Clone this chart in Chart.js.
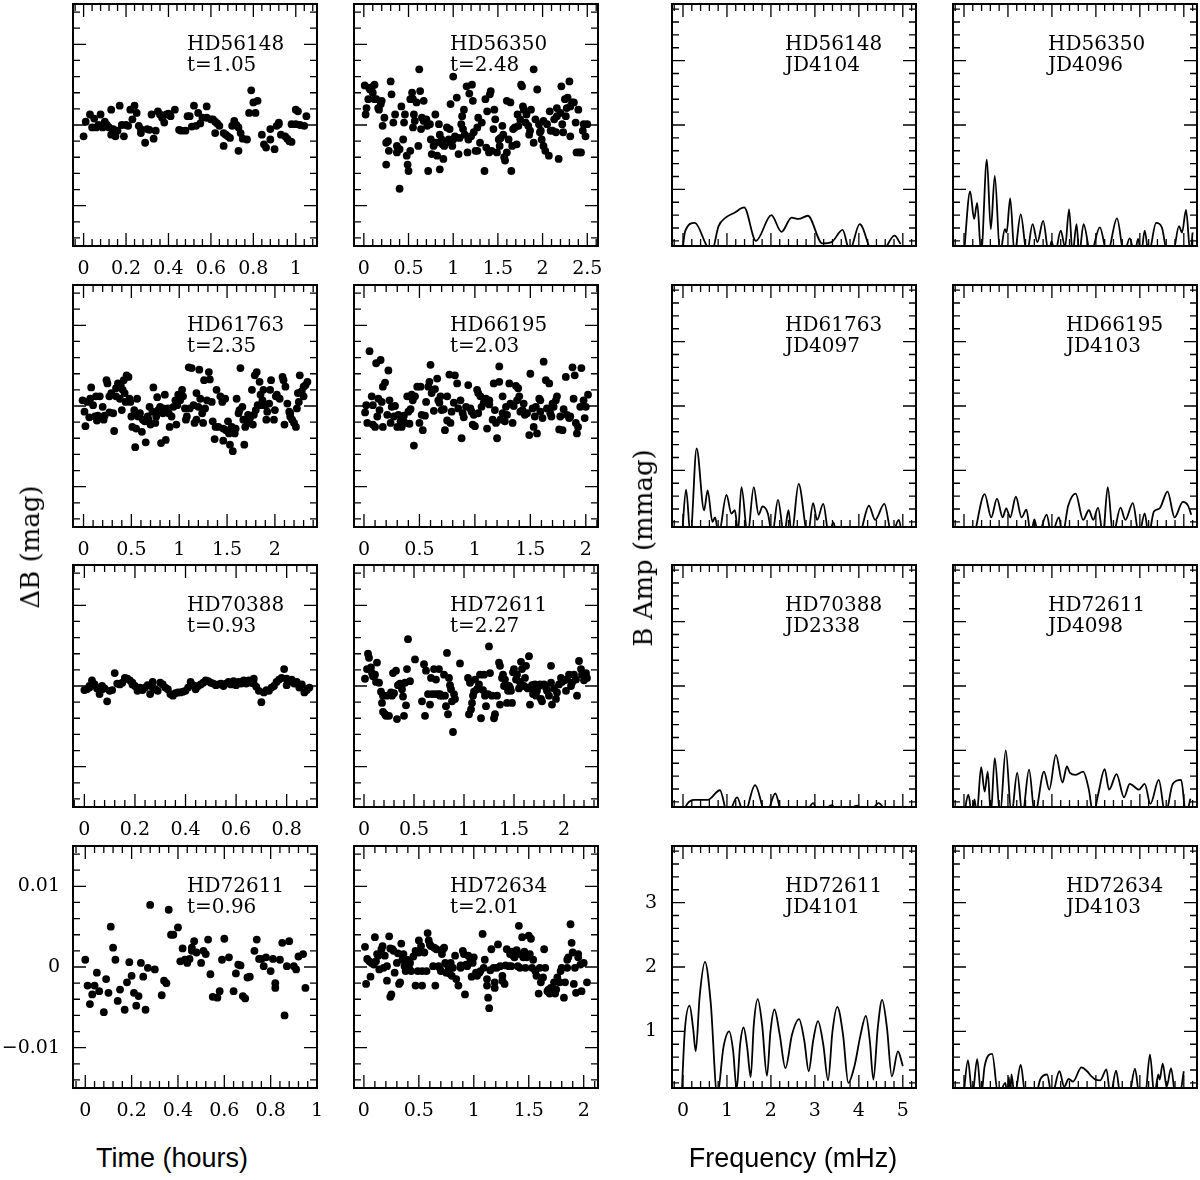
<!DOCTYPE html>
<html>
<head>
<meta charset="utf-8">
<script src="https://cdn.jsdelivr.net/npm/chart.js@4.4.0/dist/chart.umd.min.js"></script>
<style>
  body { margin: 0; background: #fff; }
  #page { position: relative; width: 1200px; height: 1180px; overflow: hidden; background: #fff; }
  canvas { position: absolute; }
  .lbl { position: absolute; font: 20px "DejaVu Serif", serif; line-height: 21px; color: #000; white-space: pre; }
  .ytitle { position: absolute; font: 26px "DejaVu Serif", serif; white-space: nowrap; color: #000;
            transform: translate(-50%, -50%) rotate(-90deg); }
  .xtitle { position: absolute; font: 27px "Liberation Sans", Arial, sans-serif; line-height: 27px; white-space: nowrap;
            color: #000; transform: translateX(-50%); }
</style>
</head>
<body>
<div id="page"></div>
<script>
// light curves: [time (h), delta B (mmag)]
const lc56148 = [[0.00,-1.4],[0.01,0.4],[0.03,1.3],[0.04,-0.3],[0.05,0.8],[0.06,-0.3],[0.07,0.0],[0.08,1.3],[0.09,-0.3],[0.10,0.4],[0.11,0.0],[0.12,-0.3],[0.13,1.9],[0.13,-1.2],[0.14,-0.5],[0.15,-1.4],[0.16,-0.7],[0.17,2.4],[0.18,0.0],[0.19,-1.4],[0.20,0.0],[0.21,-0.1],[0.22,1.9],[0.23,0.7],[0.24,2.4],[0.25,1.5],[0.26,-0.1],[0.27,-0.5],[0.27,-1.0],[0.29,-2.2],[0.30,-0.5],[0.31,-0.6],[0.32,1.3],[0.33,-1.7],[0.34,-0.7],[0.35,1.7],[0.36,1.3],[0.37,0.9],[0.38,0.3],[0.39,1.3],[0.40,1.4],[0.41,1.1],[0.43,1.9],[0.45,-0.6],[0.46,-0.7],[0.48,-0.7],[0.49,1.1],[0.50,1.1],[0.51,-0.2],[0.52,2.4],[0.53,-0.1],[0.54,1.5],[0.55,0.2],[0.56,0.9],[0.58,2.3],[0.58,0.9],[0.60,0.7],[0.61,0.7],[0.62,-1.0],[0.62,0.4],[0.63,0.2],[0.64,-0.1],[0.66,-1.0],[0.66,-2.6],[0.67,-1.2],[0.68,-1.4],[0.69,-1.6],[0.70,-0.1],[0.71,0.5],[0.72,0.0],[0.73,-0.3],[0.73,-3.2],[0.74,-1.0],[0.75,-1.7],[0.77,-1.8],[0.78,1.5],[0.79,4.3],[0.80,2.8],[0.81,1.5],[0.82,3.0],[0.84,-1.2],[0.85,-2.4],[0.86,-2.8],[0.88,-1.8],[0.88,-0.5],[0.90,-3.0],[0.91,-0.1],[0.92,0.1],[0.92,0.3],[0.93,-1.2],[0.95,-1.4],[0.96,-1.7],[0.97,-2.0],[0.98,-2.1],[0.98,0.1],[1.00,0.1],[1.00,1.9],[1.01,1.7],[1.02,0.0],[1.04,-0.1],[1.05,1.1]];

const lc56350 = [[0.01,4.9],[0.02,1.3],[0.03,2.1],[0.05,3.2],[0.06,4.6],[0.07,4.4],[0.09,4.7],[0.10,4.0],[0.12,5.0],[0.12,3.2],[0.14,3.2],[0.16,2.1],[0.17,1.9],[0.19,2.6],[0.20,3.0],[0.21,-0.1],[0.23,0.9],[0.25,-4.9],[0.25,-2.2],[0.27,-2.0],[0.28,-3.2],[0.30,5.4],[0.31,3.8],[0.33,0.3],[0.35,1.3],[0.37,-2.6],[0.37,-3.4],[0.40,-3.0],[0.40,-7.9],[0.42,2.3],[0.44,-1.8],[0.45,0.3],[0.46,1.3],[0.48,-3.8],[0.49,-4.9],[0.50,-5.7],[0.52,-3.2],[0.52,3.2],[0.54,4.0],[0.55,3.2],[0.55,-0.3],[0.56,1.3],[0.57,0.5],[0.59,2.8],[0.61,-2.6],[0.62,6.9],[0.63,4.2],[0.64,-0.5],[0.65,0.9],[0.67,3.0],[0.67,0.5],[0.70,0.7],[0.71,-0.1],[0.72,-5.7],[0.74,0.1],[0.75,-1.8],[0.76,-3.6],[0.78,-2.6],[0.80,1.3],[0.81,-2.2],[0.82,-3.8],[0.84,0.1],[0.85,-5.5],[0.85,-1.2],[0.87,-1.8],[0.88,-2.4],[0.89,-4.2],[0.90,-2.6],[0.92,-2.2],[0.93,-0.3],[0.95,-1.8],[0.96,-0.5],[0.97,2.6],[0.99,-2.6],[1.00,6.0],[1.00,-1.8],[1.02,-1.4],[1.04,3.4],[1.06,-3.6],[1.07,-1.6],[1.09,0.1],[1.10,1.1],[1.11,-0.5],[1.12,1.9],[1.13,-1.2],[1.15,4.8],[1.16,-3.4],[1.17,-1.8],[1.18,3.9],[1.20,-1.4],[1.21,5.0],[1.22,3.0],[1.23,-0.9],[1.25,-3.2],[1.27,-0.3],[1.27,-3.2],[1.28,0.9],[1.30,-2.2],[1.32,0.3],[1.35,-5.7],[1.36,3.2],[1.37,-2.8],[1.38,1.7],[1.40,-3.4],[1.41,3.8],[1.42,4.2],[1.43,-3.2],[1.45,-0.5],[1.46,1.9],[1.47,0.7],[1.49,-3.4],[1.51,-1.8],[1.52,-2.6],[1.53,-1.6],[1.55,-0.1],[1.56,-1.2],[1.57,-4.0],[1.58,-4.4],[1.60,-3.4],[1.60,3.0],[1.62,-1.8],[1.64,2.8],[1.65,-5.7],[1.66,-2.6],[1.67,-0.5],[1.69,-0.3],[1.71,-2.4],[1.72,1.3],[1.73,-0.1],[1.75,0.7],[1.76,5.0],[1.77,4.8],[1.78,2.3],[1.79,1.9],[1.81,0.3],[1.82,1.3],[1.84,-0.1],[1.85,-1.2],[1.86,-0.7],[1.87,1.9],[1.90,6.9],[1.90,-2.2],[1.92,0.7],[1.94,4.4],[1.96,0.1],[1.97,-0.9],[1.98,-0.7],[1.99,-1.8],[2.01,0.5],[2.01,-2.6],[2.03,-3.2],[2.05,0.1],[2.07,-3.8],[2.08,1.7],[2.09,-0.7],[2.11,-0.7],[2.13,0.7],[2.15,-0.9],[2.16,2.1],[2.16,1.1],[2.18,-4.2],[2.20,1.5],[2.21,4.8],[2.22,0.1],[2.23,-0.9],[2.25,3.2],[2.26,1.1],[2.27,2.1],[2.28,3.4],[2.30,5.4],[2.31,2.3],[2.31,-1.4],[2.33,2.8],[2.35,2.8],[2.37,0.3],[2.38,-3.4],[2.40,1.9],[2.41,-3.4],[2.43,-3.4],[2.45,-0.7],[2.46,0.1],[2.48,-1.4],[2.50,0.1]];

const lc61763 = [[-0.01,0.7],[0.01,-0.7],[0.02,-2.5],[0.04,0.5],[0.06,-1.4],[0.07,0.9],[0.08,2.3],[0.10,0.1],[0.12,-1.3],[0.13,1.2],[0.14,-1.8],[0.15,-1.2],[0.17,1.2],[0.19,-1.4],[0.20,-0.1],[0.21,-1.7],[0.22,-1.2],[0.24,3.2],[0.25,2.8],[0.27,1.2],[0.27,-0.8],[0.29,1.6],[0.31,-0.9],[0.32,-3.1],[0.34,1.2],[0.34,2.2],[0.36,2.8],[0.38,0.9],[0.39,2.5],[0.40,-0.5],[0.41,2.0],[0.42,3.2],[0.43,1.6],[0.44,0.5],[0.45,3.8],[0.47,3.6],[0.48,0.9],[0.49,0.5],[0.50,-1.3],[0.51,-2.6],[0.53,-0.5],[0.54,-5.1],[0.55,-2.8],[0.56,0.9],[0.57,-1.3],[0.59,-0.9],[0.61,-3.2],[0.62,-1.7],[0.64,-1.9],[0.65,-4.5],[0.67,-1.3],[0.68,-1.7],[0.69,-0.1],[0.70,-2.3],[0.72,-0.7],[0.73,2.3],[0.75,-2.1],[0.76,-1.3],[0.77,1.1],[0.78,-0.5],[0.80,-0.1],[0.81,-4.6],[0.83,-0.9],[0.83,-0.3],[0.85,1.4],[0.86,-4.2],[0.88,-0.3],[0.89,-0.9],[0.90,-2.6],[0.92,-1.3],[0.94,-0.1],[0.96,0.7],[0.97,-2.3],[0.98,0.1],[0.99,1.4],[1.01,0.7],[1.03,2.0],[1.04,1.2],[1.06,-0.3],[1.07,-1.7],[1.08,-1.3],[1.10,4.8],[1.11,-0.3],[1.13,4.7],[1.15,0.1],[1.16,-2.1],[1.18,1.6],[1.18,-1.7],[1.20,-0.1],[1.21,4.5],[1.22,0.9],[1.24,-0.9],[1.25,-2.1],[1.26,3.2],[1.27,-0.3],[1.29,0.7],[1.31,4.2],[1.32,3.3],[1.34,0.5],[1.35,-1.9],[1.37,-4.1],[1.38,-2.6],[1.39,2.0],[1.41,-2.6],[1.43,1.2],[1.45,0.5],[1.46,-4.3],[1.46,-2.8],[1.48,0.9],[1.49,-3.0],[1.51,-1.9],[1.52,-3.4],[1.53,-4.8],[1.55,-2.6],[1.56,-5.6],[1.58,-3.4],[1.59,-2.8],[1.60,0.9],[1.62,-0.9],[1.63,-0.5],[1.64,4.7],[1.66,-0.1],[1.67,-1.7],[1.68,-4.8],[1.69,-2.6],[1.70,-1.7],[1.72,-1.1],[1.73,-2.1],[1.74,-1.5],[1.76,2.0],[1.77,-2.3],[1.78,-1.1],[1.79,3.8],[1.80,-0.5],[1.81,4.2],[1.82,0.1],[1.84,3.0],[1.85,1.4],[1.86,0.1],[1.87,0.7],[1.88,2.0],[1.90,0.1],[1.91,-1.7],[1.92,-0.7],[1.94,0.3],[1.95,2.0],[1.96,3.2],[1.99,-1.7],[2.00,-0.5],[2.01,1.2],[2.02,1.4],[2.05,0.9],[2.08,3.6],[2.09,3.2],[2.10,-2.3],[2.11,2.4],[2.13,0.3],[2.15,-0.7],[2.16,-0.9],[2.16,-1.3],[2.18,-1.7],[2.20,-2.1],[2.22,-2.6],[2.23,-0.3],[2.24,1.6],[2.25,0.5],[2.26,3.8],[2.28,1.8],[2.30,1.2],[2.30,2.4],[2.32,2.6],[2.34,3.0]];

const lc66195 = [[0.01,-0.8],[0.02,0.1],[0.03,-2.1],[0.05,6.8],[0.07,1.2],[0.08,0.1],[0.08,-2.3],[0.10,-2.6],[0.11,5.3],[0.12,-1.3],[0.13,0.9],[0.14,-0.5],[0.15,5.7],[0.16,0.5],[0.17,-2.6],[0.17,2.4],[0.19,2.9],[0.21,-1.1],[0.22,4.4],[0.23,0.7],[0.24,-2.1],[0.25,-0.1],[0.27,-1.3],[0.28,0.0],[0.30,-2.6],[0.31,-1.1],[0.33,-1.9],[0.34,-2.6],[0.35,-1.7],[0.36,-1.2],[0.37,-2.1],[0.39,1.2],[0.40,-0.7],[0.41,-2.2],[0.42,-0.4],[0.43,1.4],[0.44,0.7],[0.45,-4.9],[0.46,1.2],[0.48,2.4],[0.50,-2.1],[0.51,2.4],[0.52,-1.1],[0.53,-3.0],[0.55,-1.2],[0.56,0.5],[0.58,2.4],[0.59,3.0],[0.60,5.1],[0.61,1.6],[0.63,-0.6],[0.64,2.1],[0.66,3.4],[0.67,0.7],[0.68,0.4],[0.69,1.2],[0.70,-0.5],[0.72,-0.4],[0.73,-3.0],[0.75,1.2],[0.75,-1.8],[0.77,3.9],[0.78,-2.1],[0.79,-0.7],[0.81,0.4],[0.82,3.8],[0.84,2.8],[0.85,-0.3],[0.87,0.7],[0.88,-4.0],[0.89,-0.9],[0.90,-1.4],[0.92,-0.1],[0.94,2.6],[0.96,-0.3],[0.97,-0.7],[0.98,-2.3],[0.99,-1.1],[1.00,-2.5],[1.02,2.0],[1.03,-0.9],[1.03,1.6],[1.05,1.2],[1.06,-0.1],[1.08,0.4],[1.10,0.9],[1.11,-2.8],[1.13,0.2],[1.13,0.7],[1.16,-1.7],[1.17,2.8],[1.18,-0.5],[1.19,-2.1],[1.20,-4.0],[1.22,3.0],[1.22,4.9],[1.23,-1.7],[1.25,-0.9],[1.25,1.2],[1.27,-1.9],[1.28,-0.1],[1.29,-1.1],[1.31,2.8],[1.32,0.3],[1.34,-2.1],[1.35,0.0],[1.37,2.5],[1.38,0.7],[1.39,2.2],[1.40,1.2],[1.41,-0.7],[1.43,-0.5],[1.44,0.3],[1.45,-1.1],[1.47,-0.9],[1.49,-3.6],[1.50,4.0],[1.52,-0.3],[1.53,-2.6],[1.54,-1.3],[1.55,-0.1],[1.56,-3.4],[1.58,0.9],[1.59,0.7],[1.59,-0.7],[1.61,-1.5],[1.62,5.5],[1.64,3.2],[1.65,-0.3],[1.67,2.8],[1.68,-0.9],[1.69,-1.3],[1.70,0.3],[1.71,-0.1],[1.73,0.7],[1.74,1.2],[1.76,-2.9],[1.77,-1.3],[1.79,-3.0],[1.80,-0.4],[1.82,3.6],[1.83,-1.1],[1.85,-1.5],[1.86,-1.3],[1.88,4.8],[1.89,0.9],[1.90,3.8],[1.91,-2.1],[1.92,-3.4],[1.93,-2.6],[1.95,-0.1],[1.96,4.7],[1.98,0.7],[1.99,-1.5],[2.00,-0.1],[2.02,1.4]];

const lc70388 = [[0.00,-0.5],[0.01,-0.4],[0.02,-0.2],[0.02,0.0],[0.03,0.7],[0.04,0.2],[0.04,0.2],[0.05,-0.3],[0.06,-1.0],[0.07,0.0],[0.07,-0.4],[0.08,-0.3],[0.09,-1.9],[0.10,-0.6],[0.11,-0.5],[0.12,1.6],[0.13,0.3],[0.14,0.2],[0.15,0.4],[0.16,1.0],[0.17,0.9],[0.18,0.7],[0.19,0.4],[0.19,0.2],[0.20,0.0],[0.21,-0.6],[0.22,-0.2],[0.23,-0.5],[0.24,-0.2],[0.25,0.1],[0.26,-1.0],[0.27,0.5],[0.27,-0.2],[0.28,-0.4],[0.29,-0.6],[0.30,0.4],[0.31,0.2],[0.32,-0.2],[0.33,-0.4],[0.34,-1.0],[0.35,-1.2],[0.36,-0.9],[0.37,-0.8],[0.38,-0.8],[0.39,-0.7],[0.40,-0.6],[0.41,-0.2],[0.42,0.5],[0.43,0.1],[0.44,-0.4],[0.45,0.0],[0.46,0.2],[0.47,0.4],[0.48,0.7],[0.49,0.6],[0.50,0.4],[0.51,0.3],[0.52,0.1],[0.53,0.2],[0.54,0.3],[0.55,0.0],[0.56,0.3],[0.57,0.5],[0.58,0.2],[0.59,0.6],[0.60,0.1],[0.61,0.5],[0.62,0.3],[0.63,0.7],[0.64,0.3],[0.65,0.7],[0.66,0.4],[0.67,0.9],[0.67,0.3],[0.68,-0.1],[0.69,-0.6],[0.70,-2.0],[0.71,-0.8],[0.72,-0.5],[0.73,-0.6],[0.74,-0.2],[0.75,0.0],[0.76,0.5],[0.77,0.8],[0.78,1.0],[0.79,2.1],[0.80,0.1],[0.80,0.9],[0.81,0.6],[0.82,0.8],[0.83,0.3],[0.84,0.5],[0.85,-0.2],[0.86,0.2],[0.87,-0.8],[0.88,-0.5],[0.89,-0.2]];

const lc72611a = [[0.01,0.9],[0.03,2.1],[0.04,4.0],[0.05,3.5],[0.07,2.3],[0.08,1.6],[0.09,1.2],[0.11,1.4],[0.12,0.5],[0.13,2.9],[0.15,0.4],[0.17,-0.7],[0.18,-2.1],[0.19,-1.2],[0.19,-3.2],[0.21,-3.5],[0.22,-3.7],[0.23,-1.2],[0.25,-3.7],[0.27,-0.8],[0.28,-1.2],[0.29,1.6],[0.30,-0.9],[0.32,1.9],[0.33,-4.1],[0.34,0.1],[0.36,0.3],[0.38,-0.4],[0.39,-1.3],[0.40,-3.7],[0.41,0.4],[0.42,-2.4],[0.43,2.1],[0.44,5.8],[0.46,0.6],[0.51,3.3],[0.58,-1.9],[0.60,2.7],[0.61,-3.7],[0.62,1.9],[0.64,-1.0],[0.66,-2.3],[0.67,1.0],[0.68,-1.0],[0.70,2.1],[0.71,-1.0],[0.72,0.8],[0.74,-1.0],[0.75,2.1],[0.76,-1.0],[0.76,-1.2],[0.78,-1.2],[0.80,1.4],[0.81,-1.2],[0.82,-2.5],[0.83,4.1],[0.84,-3.5],[0.85,1.0],[0.86,0.1],[0.87,-0.4],[0.88,-1.9],[0.89,-5.7],[0.90,-1.0],[0.91,-1.6],[0.96,2.8],[1.04,1.0],[1.05,-3.5],[1.06,0.4],[1.07,-2.9],[1.08,-2.1],[1.09,-1.2],[1.10,-0.7],[1.11,0.8],[1.13,-0.4],[1.15,0.2],[1.16,1.4],[1.17,-4.0],[1.19,-0.5],[1.20,1.4],[1.21,-1.2],[1.22,-2.5],[1.24,-1.0],[1.25,4.9],[1.26,1.6],[1.28,-1.2],[1.30,-4.0],[1.31,-3.5],[1.33,-1.2],[1.35,2.9],[1.36,2.5],[1.36,-2.3],[1.38,1.0],[1.39,1.4],[1.40,0.0],[1.41,0.8],[1.43,-2.1],[1.44,-0.6],[1.45,0.0],[1.46,-0.2],[1.47,-0.6],[1.48,-2.1],[1.49,1.7],[1.50,2.1],[1.52,0.8],[1.53,1.4],[1.55,-0.3],[1.56,0.5],[1.57,3.0],[1.58,2.1],[1.60,0.0],[1.61,1.0],[1.62,2.5],[1.63,-0.2],[1.64,-0.3],[1.65,3.7],[1.66,-2.3],[1.67,-0.2],[1.68,0.1],[1.69,-1.0],[1.71,0.2],[1.72,-1.2],[1.73,-0.6],[1.75,0.0],[1.76,0.2],[1.77,-1.6],[1.78,-1.9],[1.80,0.2],[1.82,-0.2],[1.83,-0.6],[1.85,-1.2],[1.87,2.5],[1.87,0.4],[1.88,-2.3],[1.90,-0.3],[1.92,-1.6],[1.93,-0.8],[1.95,0.2],[1.97,1.0],[1.98,0.5],[2.00,0.7],[2.02,-0.6],[2.03,0.8],[2.05,1.4],[2.07,0.0],[2.08,0.4],[2.10,1.4],[2.12,0.8],[2.13,-1.2],[2.15,3.1],[2.17,2.1],[2.18,1.4],[2.20,0.7],[2.22,1.6],[2.23,1.0]];

const lc72611b = [[0.00,0.9],[0.01,-2.3],[0.02,-4.6],[0.03,-3.4],[0.04,-2.3],[0.05,-0.7],[0.06,-3.0],[0.08,-5.6],[0.09,-1.5],[0.10,-3.2],[0.11,5.0],[0.12,2.4],[0.13,0.9],[0.14,-4.2],[0.15,-2.8],[0.17,-5.3],[0.18,-1.9],[0.19,0.6],[0.20,-1.1],[0.21,-3.2],[0.22,-4.8],[0.23,-3.6],[0.24,0.5],[0.25,-1.2],[0.26,-5.3],[0.27,-0.1],[0.28,7.7],[0.30,-0.3],[0.33,-3.5],[0.34,-1.7],[0.35,-2.0],[0.36,7.1],[0.37,4.0],[0.38,4.0],[0.40,4.9],[0.41,0.7],[0.42,2.3],[0.43,0.9],[0.44,0.5],[0.45,1.0],[0.46,2.4],[0.46,2.0],[0.47,3.2],[0.48,1.8],[0.50,0.5],[0.51,2.0],[0.52,1.6],[0.53,3.4],[0.54,-0.9],[0.55,-3.7],[0.57,-3.8],[0.58,-3.0],[0.59,0.9],[0.60,3.5],[0.62,1.2],[0.64,-3.0],[0.65,-0.8],[0.66,0.3],[0.67,0.2],[0.68,-3.6],[0.69,-3.9],[0.70,-1.3],[0.71,-1.2],[0.73,2.0],[0.74,3.4],[0.75,1.0],[0.76,1.0],[0.77,0.1],[0.78,1.2],[0.80,-0.5],[0.81,1.0],[0.82,-2.6],[0.82,-2.0],[0.84,0.9],[0.85,3.0],[0.86,-6.0],[0.87,0.1],[0.88,3.2],[0.90,0.1],[0.91,-0.3],[0.92,1.3],[0.94,1.6],[0.95,-2.6]];

const lc72634 = [[0.01,2.5],[0.02,-2.1],[0.03,1.0],[0.05,0.7],[0.06,-1.2],[0.07,0.5],[0.09,0.3],[0.10,3.7],[0.11,0.7],[0.12,1.6],[0.13,1.4],[0.14,-0.3],[0.15,1.6],[0.16,2.2],[0.17,2.6],[0.18,-0.1],[0.19,1.4],[0.21,-1.7],[0.21,0.1],[0.23,3.8],[0.24,2.3],[0.24,-3.7],[0.25,-3.4],[0.26,2.2],[0.27,2.0],[0.28,-0.7],[0.30,0.5],[0.31,1.7],[0.32,-2.1],[0.33,-1.9],[0.34,2.9],[0.35,0.9],[0.36,1.6],[0.37,0.1],[0.38,-0.5],[0.39,0.9],[0.40,0.1],[0.40,-0.3],[0.41,-0.1],[0.42,0.5],[0.43,-0.5],[0.45,1.3],[0.47,2.0],[0.47,-2.3],[0.49,-0.5],[0.50,3.3],[0.50,1.8],[0.52,2.6],[0.53,-0.5],[0.53,-2.3],[0.55,1.8],[0.57,-0.5],[0.58,4.2],[0.59,3.3],[0.60,2.8],[0.61,2.6],[0.63,0.1],[0.64,2.4],[0.65,-2.3],[0.66,2.2],[0.68,0.1],[0.69,-0.1],[0.70,-0.5],[0.71,1.6],[0.72,2.2],[0.73,2.4],[0.74,0.5],[0.75,-0.7],[0.76,0.3],[0.77,0.0],[0.78,-0.8],[0.79,0.5],[0.80,-1.1],[0.81,-0.1],[0.83,1.4],[0.84,-1.5],[0.86,-2.3],[0.88,0.2],[0.88,-0.1],[0.90,2.0],[0.91,1.6],[0.92,-3.4],[0.93,0.3],[0.94,0.1],[0.95,1.4],[0.97,0.9],[0.98,-1.2],[0.99,0.5],[1.00,1.2],[1.02,-0.7],[1.03,-1.1],[1.05,-0.7],[1.06,-0.5],[1.08,4.1],[1.09,-0.1],[1.10,0.9],[1.12,-1.5],[1.12,-2.3],[1.13,-3.8],[1.14,-5.1],[1.15,-0.4],[1.16,2.2],[1.18,-0.1],[1.19,-1.9],[1.19,-2.6],[1.21,-0.1],[1.22,2.8],[1.24,0.1],[1.26,-1.1],[1.26,-1.7],[1.28,-2.1],[1.29,0.2],[1.30,2.2],[1.32,0.1],[1.33,1.6],[1.34,0.1],[1.35,1.9],[1.36,1.4],[1.37,1.2],[1.39,2.1],[1.40,0.1],[1.41,5.1],[1.42,1.6],[1.42,-0.1],[1.44,3.7],[1.45,1.2],[1.46,1.9],[1.47,-0.1],[1.48,1.2],[1.50,3.9],[1.51,1.6],[1.52,3.5],[1.53,-0.1],[1.54,0.9],[1.56,-0.5],[1.57,-1.1],[1.59,-3.3],[1.60,-0.1],[1.61,-1.9],[1.63,-1.3],[1.64,2.2],[1.65,-0.1],[1.67,-3.0],[1.68,-2.8],[1.69,-3.3],[1.70,-2.6],[1.71,-3.0],[1.73,-1.9],[1.74,-3.3],[1.75,-2.8],[1.76,-1.3],[1.78,-1.9],[1.79,-0.5],[1.80,-0.1],[1.82,-3.8],[1.83,-1.9],[1.85,-0.1],[1.85,0.9],[1.86,1.2],[1.88,5.3],[1.89,3.0],[1.90,1.8],[1.91,-2.1],[1.92,-0.1],[1.93,-3.2],[1.95,1.6],[1.95,1.2],[1.97,0.3],[1.98,-3.0],[2.00,0.5],[2.03,-1.9]];

// amplitude spectra: [frequency (mHz), amplitude (mmag)]
const sp56148 = [[-0.02,0.0],[0.05,0.35],[0.27,0.48],[0.52,0.15],[0.64,0.0],[0.81,0.43],[0.97,0.56],[1.18,0.64],[1.39,0.72],[1.66,0.2],[2.01,0.60],[2.24,0.34],[2.47,0.56],[2.63,0.54],[2.84,0.59],[3.17,0.16],[3.38,0.18],[3.63,0.37],[3.79,0.05],[4.02,0.46],[4.33,0.0],[4.50,0.0],[4.81,0.28],[4.95,0.15]];

const sp56350 = [[0.0,0.0],[0.14,0.97],[0.23,0.54],[0.30,0.79],[0.39,0.0],[0.52,1.46],[0.61,0.38],[0.70,1.21],[0.82,0.0],[0.93,0.38],[0.97,0.33],[1.05,0.86],[1.15,0.0],[1.29,0.61],[1.43,0.0],[1.56,0.46],[1.67,0.18],[1.80,0.51],[1.93,0.0],[1.99,0.19],[2.07,0.0],[2.20,0.36],[2.30,0.1],[2.39,0.69],[2.47,0.0],[2.56,0.46],[2.62,0.0],[2.72,0.46],[2.88,0.0],[3.09,0.41],[3.26,0.0],[3.48,0.55],[3.64,0.0],[3.77,0.24],[3.88,0.0],[3.96,0.23],[4.03,0.0],[4.11,0.36],[4.20,0.0],[4.37,0.48],[4.50,0.41],[4.63,0.0],[4.75,0.0],[4.89,0.43],[4.96,0.33],[5.05,0.68],[5.15,0.0],[5.20,0.33]];

const sp61763 = [[-0.02,0.0],[0.07,0.70],[0.17,0.0],[0.31,1.34],[0.48,0.38],[0.56,0.69],[0.67,0.2],[0.73,0.27],[0.81,0.0],[0.99,0.62],[1.10,0.33],[1.18,0.38],[1.25,0.05],[1.33,0.74],[1.47,0.0],[1.61,0.74],[1.72,0.31],[1.81,0.44],[1.93,0.33],[2.03,0.0],[2.16,0.54],[2.30,0.0],[2.40,0.38],[2.47,0.0],[2.63,0.79],[2.84,0.0],[2.96,0.49],[3.05,0.23],[3.19,0.48],[3.32,0.0],[3.42,0.19],[3.50,0.0],[4.00,0.0],[4.23,0.45],[4.37,0.23],[4.58,0.48],[4.75,0.0],[4.91,0.23],[4.98,0.0]];

const sp66195 = [[0.24,0.0],[0.47,0.63],[0.62,0.27],[0.75,0.56],[0.88,0.27],[0.96,0.41],[1.05,0.27],[1.18,0.59],[1.31,0.27],[1.42,0.39],[1.52,0.0],[1.60,0.24],[1.69,0.0],[1.88,0.31],[1.99,0.0],[2.16,0.27],[2.24,0.0],[2.37,0.45],[2.54,0.64],[2.71,0.23],[2.84,0.38],[2.94,0.23],[3.05,0.42],[3.16,0.0],[3.27,0.74],[3.39,0.0],[3.56,0.42],[3.67,0.23],[3.84,0.49],[3.98,0.0],[4.11,0.33],[4.20,0.0],[4.32,0.36],[4.45,0.41],[4.63,0.67],[4.79,0.27],[4.98,0.51],[5.09,0.46],[5.17,0.31]];

const sp70388 = [[-0.02,0.0],[0.10,0.17],[0.25,0.23],[0.56,0.23],[0.84,0.38],[1.02,0.0],[1.23,0.27],[1.39,0.0],[1.64,0.46],[1.89,0.0],[2.10,0.33],[2.26,0.0],[2.76,0.0],[2.96,0.18],[3.09,0.0],[3.38,0.15],[3.59,0.0],[3.96,0.14],[4.20,0.0],[4.45,0.18],[4.66,0.0]];

const sp72611a = [[0.0,0.0],[0.10,0.31],[0.18,0.0],[0.24,0.24],[0.29,0.0],[0.39,0.74],[0.47,0.36],[0.54,0.67],[0.61,0.0],[0.70,0.88],[0.82,0.0],[0.95,1.0],[1.08,0.0],[1.21,0.65],[1.33,0.0],[1.48,0.70],[1.61,0.0],[1.82,0.67],[1.94,0.39],[2.09,0.93],[2.24,0.50],[2.34,0.75],[2.41,0.65],[2.54,0.62],[2.71,0.67],[2.84,0.39],[2.94,0.0],[3.05,0.31],[3.20,0.71],[3.30,0.39],[3.47,0.63],[3.64,0.27],[3.77,0.48],[3.98,0.39],[4.11,0.48],[4.24,0.17],[4.43,0.54],[4.58,0.0],[4.75,0.48],[4.94,0.54],[5.05,0.0],[5.15,0.25]];

const sp72611b = [[-0.03,0.0],[0.04,1.0],[0.15,1.40],[0.23,1.05],[0.29,0.69],[0.38,1.55],[0.50,2.08],[0.63,1.45],[0.78,0.0],[0.92,0.75],[1.05,1.0],[1.14,0.7],[1.22,0.1],[1.30,0.8],[1.38,1.06],[1.46,0.75],[1.54,0.29],[1.61,1.1],[1.70,1.50],[1.80,1.1],[1.91,0.31],[1.99,1.0],[2.08,1.34],[2.20,0.95],[2.33,0.43],[2.48,0.95],[2.64,1.19],[2.76,0.85],[2.86,0.38],[2.96,0.85],[3.07,1.16],[3.19,0.8],[3.30,0.24],[3.40,1.0],[3.51,1.38],[3.64,0.95],[3.76,0.2],[3.90,0.46],[4.04,0.95],[4.16,1.24],[4.25,0.85],[4.33,0.25],[4.43,1.05],[4.53,1.49],[4.64,1.05],[4.75,0.30],[4.89,0.69],[5.0,0.46]];

const sp72634 = [[-0.01,0.0],[0.09,0.55],[0.19,0.0],[0.30,0.57],[0.39,0.0],[0.47,0.46],[0.64,0.65],[0.78,0.0],[0.94,0.2],[0.99,0.0],[1.02,0.29],[1.05,0.0],[1.08,0.33],[1.15,0.0],[1.29,0.48],[1.40,0.0],[1.62,0.0],[1.74,0.26],[1.89,0.33],[2.00,0.0],[2.17,0.38],[2.28,0.14],[2.38,0.26],[2.48,0.22],[2.67,0.44],[2.80,0.38],[2.90,0.30],[2.99,0.25],[3.10,0.24],[3.24,0.41],[3.33,0.0],[3.46,0.39],[3.56,0.0],[3.75,0.0],[3.89,0.42],[3.99,0.0],[4.12,0.0],[4.23,0.64],[4.33,0.0],[4.42,0.33],[4.45,0.25],[4.52,0.5],[4.61,0.14],[4.71,0.43],[4.81,0.0],[4.90,0.0],[5.00,0.38]];

// panel texts
const starNames = ['HD56148','HD56350','HD61763','HD66195','HD70388','HD72611','HD72611','HD72634'];
const runLengths = ['t=1.05','t=2.48','t=2.35','t=2.03','t=0.93','t=2.27','t=0.96','t=2.01'];
const specNames = ['HD56148','HD56350','HD61763','HD66195','HD70388','HD72611','HD72611','HD72634'];
const specDates = ['JD4104','JD4096','JD4097','JD4103','JD2338','JD4098','JD4101','JD4103'];

// frame layout (canvas margins are generous so Chart.js never shrinks the plot box)
const PAD_L = 75, PAD_R = 30, PAD_T = 30, PAD_B = 40;
const COL_X = [73, 354, 672, 953];
const ROW_Y = [4, 285, 565, 846];
const BOX_W = 244, BOX_H = 242;

const lightPanels = [
    { col: 0, row: 0, data: lc56148, xMin: -0.05, xMax: 1.1, minor: 0.04, major: 0.2, dx: 114 },
    { col: 1, row: 0, data: lc56350, xMin: -0.11, xMax: 2.62, minor: 0.1, major: 0.5, dx: 96 },
    { col: 0, row: 1, data: lc61763, xMin: -0.11, xMax: 2.44, minor: 0.1, major: 0.5, dx: 114 },
    { col: 1, row: 1, data: lc66195, xMin: -0.09, xMax: 2.11, minor: 0.1, major: 0.5, dx: 96 },
    { col: 0, row: 2, data: lc70388, xMin: -0.045, xMax: 0.92, minor: 0.04, major: 0.2, dx: 114 },
    { col: 1, row: 2, data: lc72611a, xMin: -0.10, xMax: 2.34, minor: 0.1, major: 0.5, dx: 96 },
    { col: 0, row: 3, data: lc72611b, xMin: -0.053, xMax: 1.0, minor: 0.04, major: 0.2, dx: 114, yLabels: true },
    { col: 1, row: 3, data: lc72634, xMin: -0.09, xMax: 2.13, minor: 0.1, major: 0.5, dx: 96 }
];

const specPanels = [
    { col: 2, row: 0, data: sp56148, dx: 113 },
    { col: 3, row: 0, data: sp56350, dx: 95 },
    { col: 2, row: 1, data: sp61763, dx: 113 },
    { col: 3, row: 1, data: sp66195, dx: 113 },
    { col: 2, row: 2, data: sp70388, dx: 113 },
    { col: 3, row: 2, data: sp72611a, dx: 95 },
    { col: 2, row: 3, data: sp72611b, dx: 113, labels: true },
    { col: 3, row: 3, data: sp72634, dx: 113 }
];

Chart.defaults.font.family = '"DejaVu Serif", serif';
Chart.defaults.font.size = 19;
Chart.defaults.color = '#000';
Chart.defaults.animation = false;

const page = document.getElementById('page');

function isMajor(v, step) {
    const r = v / step;
    return Math.abs(r - Math.round(r)) < 1e-6;
}

function fmt(v) {
    return String(+v.toFixed(4)).replace('-', '\u2212');
}

// box frame with inward ticks on all four sides
const frameTicks = {
    id: 'frameTicks',
    afterDatasetsDraw(chart, args, opts) {
        const { ctx, chartArea: a } = chart;
        const xs = chart.scales.x, ys = chart.scales.y;
        ctx.save();
        ctx.strokeStyle = '#000';
        ctx.lineWidth = 1.3;
        ctx.beginPath();
        xs.ticks.forEach(t => {
            const px = xs.getPixelForValue(t.value);
            if (px <= a.left + 1 || px >= a.right - 1) return;
            const len = isMajor(t.value, opts.xMajor) ? 13 : 7;
            ctx.moveTo(px, a.bottom); ctx.lineTo(px, a.bottom - len);
            ctx.moveTo(px, a.top); ctx.lineTo(px, a.top + len);
        });
        ys.ticks.forEach(t => {
            const py = ys.getPixelForValue(t.value);
            if (py <= a.top + 1 || py >= a.bottom - 1) return;
            const len = isMajor(t.value, opts.yMajor) ? 13 : 7;
            ctx.moveTo(a.left, py); ctx.lineTo(a.left + len, py);
            ctx.moveTo(a.right, py); ctx.lineTo(a.right - len, py);
        });
        ctx.stroke();
        ctx.lineWidth = 2;
        ctx.strokeRect(a.left, a.top, a.right - a.left, a.bottom - a.top);
        ctx.restore();
    }
};

function addText(cls, text, x, y) {
    const el = document.createElement('div');
    el.className = cls;
    el.textContent = text;
    el.style.left = x + 'px';
    el.style.top = y + 'px';
    page.appendChild(el);
    return el;
}

function makeCanvas(col, row) {
    const canvas = document.createElement('canvas');
    canvas.width = BOX_W + PAD_L + PAD_R;
    canvas.height = BOX_H + PAD_T + PAD_B;
    canvas.style.left = (COL_X[col] - PAD_L) + 'px';
    canvas.style.top = (ROW_Y[row] - PAD_T) + 'px';
    page.appendChild(canvas);
    return canvas;
}

function axis(min, max, minor, major, showLabels, isX, pad) {
    return {
        type: 'linear',
        min: min,
        max: max,
        bounds: 'data',
        grid: { display: false, drawTicks: false },
        border: { display: false },
        ticks: {
            display: showLabels,
            autoSkip: false,
            maxRotation: 0,
            minRotation: 0,
            padding: pad,
            callback: v => isMajor(v, major) ? fmt(v) : ''
        },
        // ticks on every multiple of the minor step inside the range
        afterBuildTicks(s) {
            const ticks = [];
            for (let k = Math.ceil(min / minor - 1e-6); k * minor <= max + 1e-9; k++) {
                ticks.push({ value: +(k * minor).toFixed(6) });
            }
            s.ticks = ticks;
        },
        afterFit(s) {
            if (isX) s.height = PAD_B; else s.width = PAD_L;
        }
    };
}

function baseOptions(scales, xMajor, yMajor) {
    return {
        responsive: false,
        maintainAspectRatio: false,
        events: [],
        layout: { padding: { left: 0, right: PAD_R, top: PAD_T, bottom: 0 } },
        plugins: {
            legend: { display: false },
            tooltip: { enabled: false },
            frameTicks: { xMajor: xMajor, yMajor: yMajor }
        },
        scales: scales
    };
}

function drawLightCurve(p, i) {
    const canvas = makeCanvas(p.col, p.row);
    new Chart(canvas, {
        type: 'scatter',
        data: {
            datasets: [{
                data: p.data.map(([t, m]) => ({ x: t, y: m / 1000 })),
                pointRadius: 3.9,
                pointBackgroundColor: '#000',
                pointBorderWidth: 0,
                showLine: false
            }]
        },
        options: baseOptions({
            x: axis(p.xMin, p.xMax, p.minor, p.major, true, true, 12),
            y: axis(-0.015, 0.015, 0.002, 0.01, !!p.yLabels, false, 13)
        }, p.major, 0.01),
        plugins: [frameTicks]
    });
    addText('lbl', starNames[i] + '\n' + runLengths[i], COL_X[p.col] + p.dx, ROW_Y[p.row] + 29);
}

function drawSpectrum(p, i) {
    const canvas = makeCanvas(p.col, p.row);
    new Chart(canvas, {
        type: 'scatter',
        data: {
            datasets: [{
                data: p.data.map(([f, a]) => ({ x: f, y: a })),
                showLine: true,
                pointRadius: 0,
                borderColor: '#000',
                borderWidth: 1.8,
                cubicInterpolationMode: 'monotone',
                fill: false
            }]
        },
        options: baseOptions({
            x: axis(-0.25, 5.3, 0.2, 1, !!p.labels, true, 12),
            y: axis(0.12, 3.88, 0.2, 1, !!p.labels, false, 15)
        }, 1, 1),
        plugins: [frameTicks]
    });
    addText('lbl', specNames[i] + '\n' + specDates[i], COL_X[p.col] + p.dx, ROW_Y[p.row] + 29);
}

lightPanels.forEach(drawLightCurve);
specPanels.forEach(drawSpectrum);

addText('ytitle', '\u0394B (mag)', 30, 547);
addText('ytitle', 'B Amp (mmag)', 643, 548);
addText('xtitle', 'Time (hours)', 172, 1145);
addText('xtitle', 'Frequency (mHz)', 793, 1145);
</script>
</body>
</html>
